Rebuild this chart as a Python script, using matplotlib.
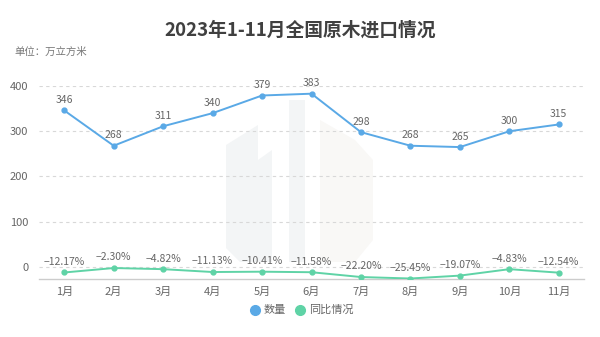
import matplotlib
matplotlib.use('Agg')
import matplotlib.pyplot as plt
from matplotlib.patches import Polygon
import numpy as np

plt.rcParams['font.family'] = ['Noto Sans CJK SC', 'DejaVu Sans']

months = ['1月', '2月', '3月', '4月', '5月', '6月', '7月', '8月', '9月', '10月', '11月']
volume = [346, 268, 311, 340, 379, 383, 298, 268, 265, 300, 315]
yoy = [-12.17, -2.30, -4.82, -11.13, -10.41, -11.58, -22.20, -25.45, -19.07, -4.83, -12.54]
yticks = [0, 100, 200, 300, 400]

blue = '#5aa9e6'
green = '#5fd3a6'
gray_txt = '#666666'

W, H = 600, 337
fig = plt.figure(figsize=(6, 3.37), dpi=100)

# faint watermark logo behind the chart (pixel coords -> figure fraction)
def wm(points, color):
    pts = [(x / W, 1 - y / H) for x, y in points]
    fig.patches.append(Polygon(pts, closed=True, transform=fig.transFigure,
                               facecolor=color, edgecolor='none', zorder=-5))

wm([(226, 145), (258, 125), (258, 262), (240, 262), (226, 248)], '#f3f5f6')
wm([(258, 160), (272, 150), (272, 262), (258, 262)], '#f3f5f6')
wm([(289, 100), (305, 100), (305, 262), (289, 262)], '#f3f5f6')
wm([(320, 120), (355, 140), (373, 160), (373, 240), (355, 262), (320, 262)], '#f9f8f6')

ax = fig.add_axes([39.5 / W, 1 - 278.5 / H, 544 / W, (278.5 - 86) / H], zorder=2)
ax.patch.set_alpha(0)

x = np.arange(len(months))
ax.plot(x, volume, color=blue, lw=1.4, marker='o', ms=3.5, zorder=3)
ax.plot(x, yoy, color=green, lw=1.4, marker='o', ms=3.5, zorder=3)

for i, v in enumerate(volume):
    ax.annotate(str(v), (i, v), xytext=(0, 4), textcoords='offset points',
                ha='center', va='bottom', fontsize=7.5, color=gray_txt)
for i, v in enumerate(yoy):
    ax.annotate('−%.2f%%' % abs(v), (i, v), xytext=(0, 4), textcoords='offset points',
                ha='center', va='bottom', fontsize=7.5, color=gray_txt)

ax.set_xlim(-0.5, len(months) - 0.5)
ax.set_ylim(min(yoy), 400)
ax.set_yticks(yticks)
ax.set_xticks(x)
ax.set_xticklabels(months)
for y in yticks:
    ax.axhline(y, color='#d8d8d8', lw=0.8, ls=(0, (3, 3)), zorder=1)

for s in ['top', 'right', 'left']:
    ax.spines[s].set_visible(False)
ax.spines['bottom'].set_color('#cccccc')
ax.spines['bottom'].set_linewidth(1)
ax.tick_params(axis='y', length=0, labelsize=8, labelcolor=gray_txt, pad=8)
ax.tick_params(axis='x', length=0, labelsize=8, labelcolor=gray_txt, pad=6)

fig.text(0.5, 1 - 30 / H, '2023年1-11月全国原木进口情况', ha='center', va='center',
         fontsize=13.5, fontweight='bold', color='#404040')
fig.text(14 / W, 1 - 52 / H, '单位：万立方米', ha='left', va='center',
         fontsize=7.5, color='#777777')

# legend
ly = 1 - 310 / H
fig.lines.append(plt.Line2D([255 / W], [ly], marker='o', ms=7, color=blue,
                            transform=fig.transFigure))
fig.text(264 / W, ly, '数量', ha='left', va='center', fontsize=8, color=gray_txt)
fig.lines.append(plt.Line2D([300 / W], [ly], marker='o', ms=7, color=green,
                            transform=fig.transFigure))
fig.text(309 / W, ly, '同比情况', ha='left', va='center', fontsize=8, color=gray_txt)

fig.savefig('out.png', dpi=100)
